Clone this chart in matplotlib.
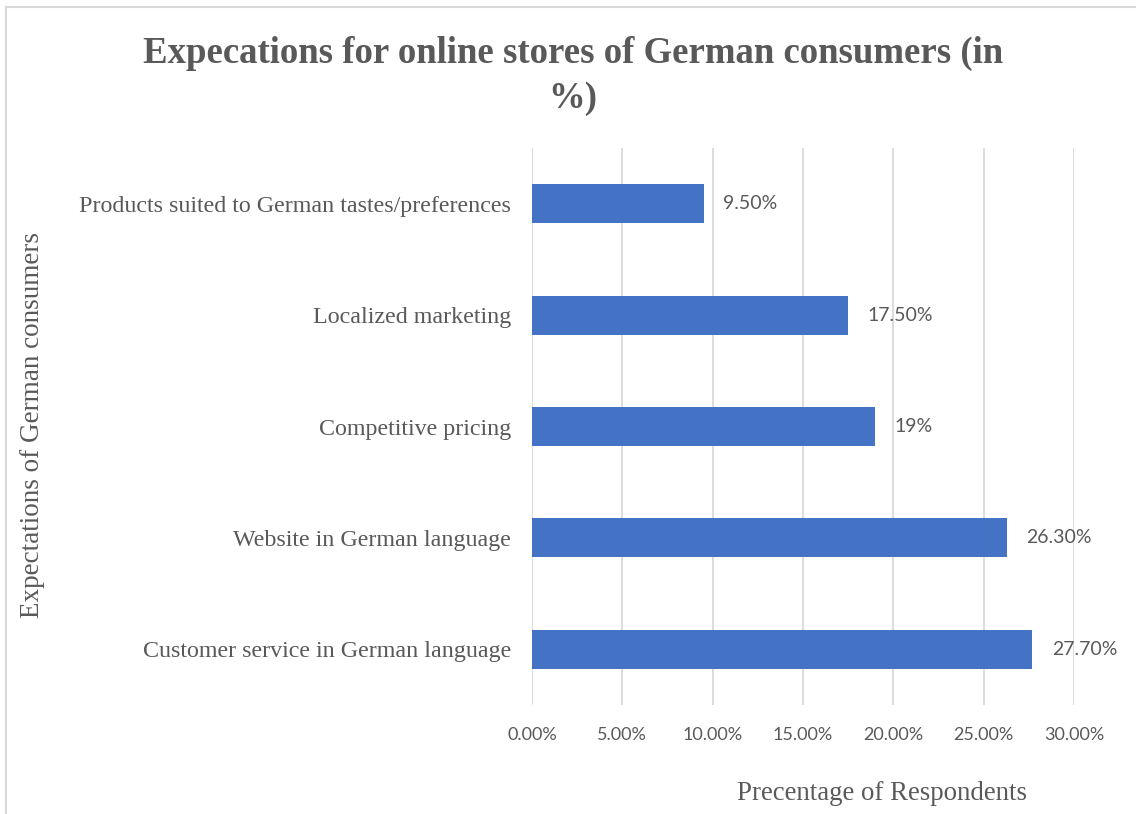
import matplotlib
matplotlib.use("Agg")
import matplotlib.pyplot as plt
from matplotlib.lines import Line2D
from matplotlib.ticker import FuncFormatter

categories = [
    "Customer service in German language",
    "Website in German language",
    "Competitive pricing",
    "Localized marketing",
    "Products suited to German tastes/preferences",
]
values = [27.7, 26.3, 19.0, 17.5, 9.5]
value_labels = ["27.70%", "26.30%", "19%", "17.50%", "9.50%"]
xticks = [0, 5, 10, 15, 20, 25, 30]

TEXT = "#595959"
GRID = "#D9D9D9"
BAR = "#4472C4"

W, H = 1136, 814
fig = plt.figure(figsize=(W / 100, H / 100), dpi=100)

# axes placement in pixels
x0, x1 = 532, 1074
y_top, y_bot = 148, 705
ax = fig.add_axes([x0 / W, 1 - y_bot / H, (x1 - x0) / W, (y_bot - y_top) / H])

ypos = list(range(len(categories)))
ax.barh(ypos, values, height=0.35, color=BAR, zorder=3)
ax.set_xlim(0, 30)
ax.set_ylim(-0.5, len(categories) - 0.5)
ax.set_xticks(xticks)
ax.xaxis.set_major_formatter(FuncFormatter(lambda v, p: f"{v:.2f}%"))
ax.grid(axis="x", color=GRID, linewidth=1.3, zorder=0)
ax.set_axisbelow(True)
for s in ax.spines.values():
    s.set_visible(False)
ax.tick_params(axis="both", length=0)
ax.tick_params(axis="x", pad=16, labelsize=13, labelcolor=TEXT)
for lbl in ax.get_xticklabels():
    lbl.set_fontfamily("Lato")
ax.set_yticks(ypos)
ax.set_yticklabels(categories, fontfamily="Liberation Serif", fontsize=17.3, color=TEXT)
ax.tick_params(axis="y", pad=15)

for y, v, t in zip(ypos, values, value_labels):
    ax.annotate(t, (v, y), xytext=(14, 0), textcoords="offset points",
                ha="left", va="center", fontfamily="Lato", fontsize=14, color=TEXT)

fig.text(573 / W, 1 - 53 / H, "Expecations for online stores of German consumers (in",
         ha="center", va="center", fontfamily="Liberation Serif", fontweight="bold",
         fontsize=26.5, color=TEXT)
fig.text(573 / W, 1 - 98 / H, "%)",
         ha="center", va="center", fontfamily="Liberation Serif", fontweight="bold",
         fontsize=26.5, color=TEXT)

fig.text(882 / W, 1 - 793 / H, "Precentage of Respondents", ha="center", va="center",
         fontfamily="Liberation Serif", fontsize=19.4, color=TEXT)
fig.text(33 / W, 1 - 425 / H, "Expectations of German consumers", ha="center", va="center",
         rotation=90, fontfamily="Liberation Serif", fontsize=19.5, color=TEXT)

# outer chart frame (top and left edges visible)
fig.add_artist(Line2D([6 / W, 1], [1 - 7 / H, 1 - 7 / H], transform=fig.transFigure,
                      color=GRID, linewidth=1.5))
fig.add_artist(Line2D([6 / W, 6 / W], [0, 1 - 7 / H], transform=fig.transFigure,
                      color=GRID, linewidth=1.5))

fig.savefig("out.png", dpi=100)
